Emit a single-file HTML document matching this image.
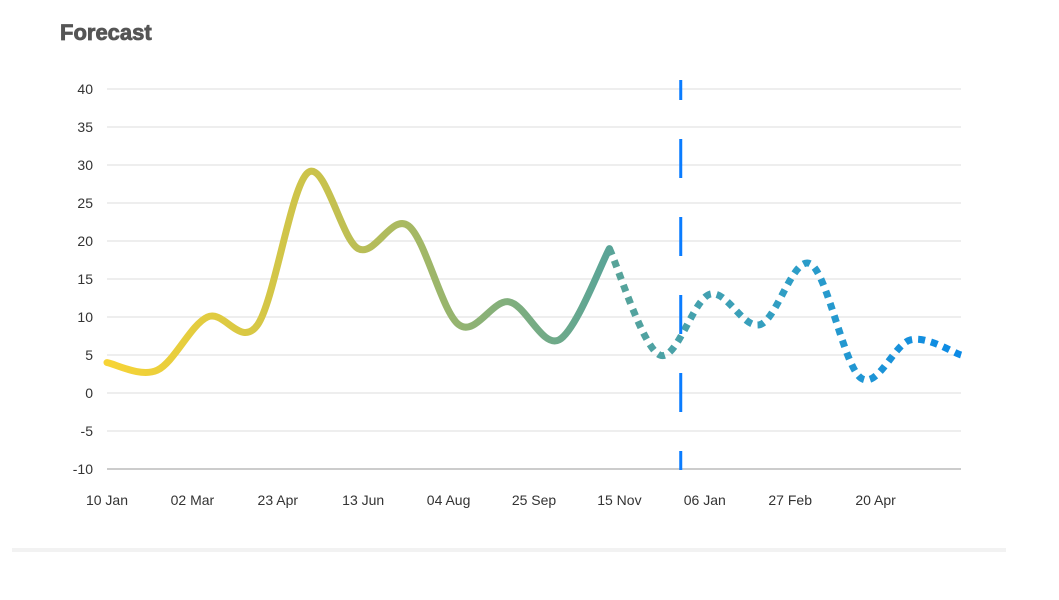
<!DOCTYPE html>
<html><head><meta charset="utf-8"><style>
body{margin:0;background:#fff;width:1059px;height:595px;overflow:hidden;font-family:"Liberation Sans",sans-serif}
</style></head><body>
<svg width="1059" height="595">
<defs>
<linearGradient id="g" gradientUnits="userSpaceOnUse" x1="107" y1="0" x2="961" y2="0">
<stop offset="0" stop-color="#f7d436"/>
<stop offset="0.25" stop-color="#c9c24c"/>
<stop offset="0.6" stop-color="#56a39a"/>
<stop offset="0.8" stop-color="#2e9ec6"/>
<stop offset="1" stop-color="#0b8ae6"/>
</linearGradient>
</defs>
<text x="60" y="40" font-size="22" font-weight="bold" fill="#555" stroke="#555" stroke-width="0.8">Forecast</text>
<g id="grid"></g><g id="series"></g>
<rect x="12" y="548" width="994" height="4" fill="#f2f2f2"/>
</svg>
<script>
const yTicks=[40,35,30,25,20,15,10,5,0,-5,-10];
const xLabels=["10 Jan","02 Mar","23 Apr","13 Jun","04 Aug","25 Sep","15 Nov","06 Jan","27 Feb","20 Apr"];
const actual=[4,3,10,9,29,19,22,9,12,7,19];
const forecast=[19,5,13,9,17,2,7,5];
const forecastStart=10;
const forecastBoundary=11.42;
const NS="http://www.w3.org/2000/svg";
const X=i=>107+i*50.24, Y=v=>393-v*7.6;
const grid=document.getElementById('grid'),ser=document.getElementById('series');
function mk(t,a,p){const e=document.createElementNS(NS,t);for(const k in a)e.setAttribute(k,a[k]);p.appendChild(e);return e;}
yTicks.forEach(v=>{
 const l=mk('line',{x1:107,x2:961,y1:Y(v),y2:Y(v),stroke:v==-10?'#ccc':'#e3e3e3','stroke-width':v==-10?2:1.3},grid);
 
 
 const t=mk('text',{x:93,y:Y(v)+5,'text-anchor':'end','font-size':14,fill:'#333'},grid);t.textContent=v;
 
 
});
xLabels.forEach((s,i)=>{
 const x=107+i*85.4;
 const t=mk('text',{x:x,y:505,'text-anchor':'middle','font-size':14,fill:'#333'},grid);t.textContent=s;
 
 
});
function path(vals,off){
 const p=vals.map((v,i)=>[X(i+off),Y(v)]);
 let d=`M${p[0][0]},${p[0][1]}`;
 for(let i=0;i<p.length-1;i++){
  const p0=p[i-1]||p[i],p1=p[i],p2=p[i+1],p3=p[i+2]||p2,k=6;
  d+=` C${p1[0]+(p2[0]-p0[0])/k},${p1[1]+(p2[1]-p0[1])/k} ${p2[0]-(p3[0]-p1[0])/k},${p2[1]-(p3[1]-p1[1])/k} ${p2[0]},${p2[1]}`;
 }
 return d;
}
const a=mk('path',{d:path(actual,0),fill:'none',stroke:'url(#g)','stroke-width':7,'stroke-linecap':'round'},ser);


const f=mk('path',{d:path(forecast,forecastStart),fill:'none',stroke:'url(#g)','stroke-width':7,'stroke-dasharray':'7 6'},ser);


const vx=X(forecastBoundary);
const vl=mk('line',{x1:vx,x2:vx,y1:80,y2:470,stroke:'#0a7cff','stroke-width':3,'stroke-dasharray':'39 39','stroke-dashoffset':19},ser);


</script>
</body></html>
